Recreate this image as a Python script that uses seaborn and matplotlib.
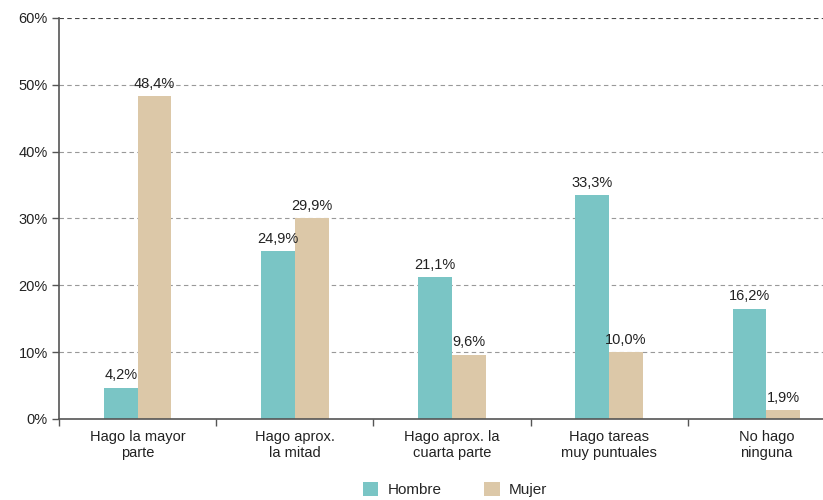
import matplotlib
matplotlib.use("Agg")
from matplotlib import pyplot as plt
from matplotlib.ticker import FixedLocator
import seaborn as sns
import pandas as pd

categorias = ['Hago la mayor\nparte', 'Hago aprox.\nla mitad', 'Hago aprox. la\ncuarta parte',
              'Hago tareas\nmuy puntuales', 'No hago\nninguna']
hombre = [4.7, 25.1, 21.2, 33.5, 16.5]
mujer = [48.3, 30.0, 9.6, 10.0, 1.3]
etiquetas_hombre = ['4,2%', '24,9%', '21,1%', '33,3%', '16,2%']
etiquetas_mujer = ['48,4%', '29,9%', '9,6%', '10,0%', '1,9%']
colores = ['#7AC5C5', '#DCC8A8']

df = pd.DataFrame({
    'categoria': categorias * 2,
    'valor': hombre + mujer,
    'sexo': ['Hombre'] * len(categorias) + ['Mujer'] * len(categorias),
})

sns.set_theme(style='white')
plt.rcParams['font.family'] = ['Liberation Sans', 'DejaVu Sans']

fig = plt.figure(figsize=(8.23, 5.0), dpi=100)
ax = fig.add_axes([0.0717, 0.162, 0.9283, 0.802])
sns.barplot(data=df, x='categoria', y='valor', hue='sexo', palette=colores,
            width=0.43, saturation=1, linewidth=0, ax=ax, legend=True)

ax.set_ylim(0, 60)
ax.set_xlim(-0.5, 4.36)
ax.set_yticks(range(0, 61, 10))
ax.set_yticklabels([f'{v}%' for v in range(0, 61, 10)], fontsize=10.5, color='#222222')
ax.set_xticks(range(len(categorias)))
ax.set_xticklabels(categorias, fontsize=10.5, color='#222222')
ax.tick_params(axis='x', which='major', length=0, pad=8)
ax.xaxis.set_minor_locator(FixedLocator([-0.5, 0.5, 1.5, 2.5, 3.5]))
ax.tick_params(axis='x', which='minor', length=5, color='#555555', width=1, direction='out', bottom=True)
ax.tick_params(axis='y', length=5, color='#555555', width=1, left=True, pad=3)
ax.set_xlabel('')
ax.set_ylabel('')

for v in range(10, 61, 10):
    ax.axhline(v, color='#999999' if v < 60 else '#444444', lw=0.8, ls=(0, (4, 3)), zorder=0)

for s in ['top', 'right']:
    ax.spines[s].set_visible(False)
for s in ['left', 'bottom']:
    ax.spines[s].set_color('#555555')
    ax.spines[s].set_linewidth(1.2)

for cont, labs in zip(ax.containers, [etiquetas_hombre, etiquetas_mujer]):
    ax.bar_label(cont, labels=labs, padding=4, fontsize=10.5, color='#222222')

handles, labels = ax.get_legend_handles_labels()
ax.legend(handles, labels, loc='lower center', bbox_to_anchor=(0.553, -0.016),
          bbox_transform=fig.transFigure, ncol=2, frameon=False, fontsize=11,
          handlelength=1.0, handleheight=1.0, columnspacing=2.8, handletextpad=0.6,
          borderpad=0.2)

plt.savefig('out.png', dpi=100)
